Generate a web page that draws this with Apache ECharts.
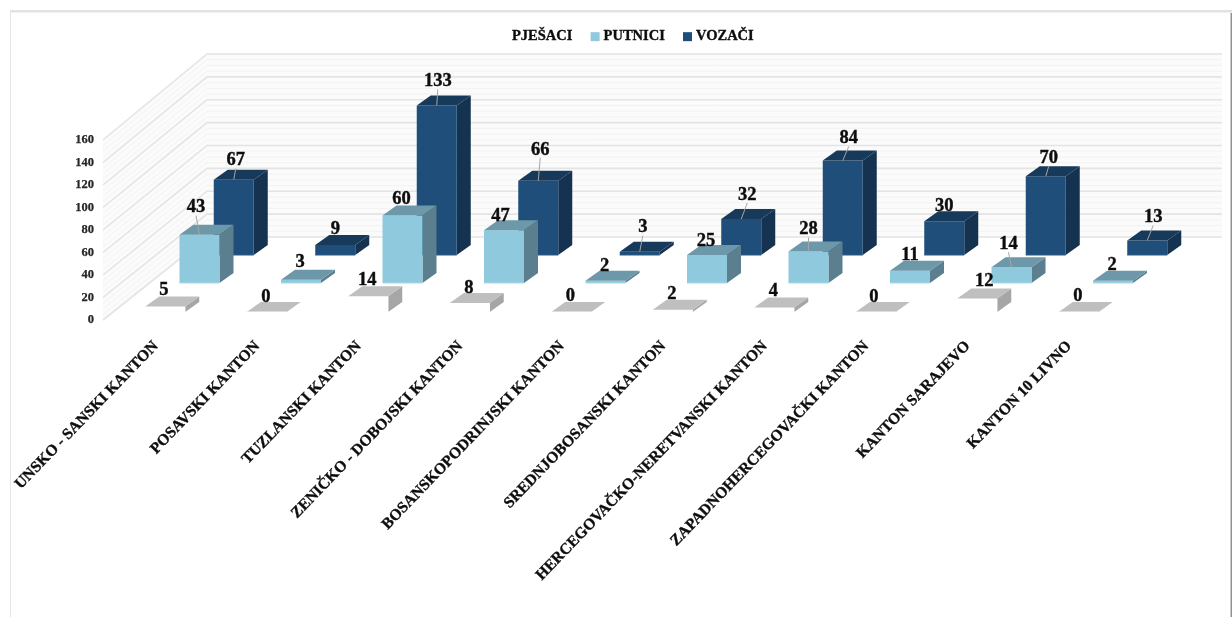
<!DOCTYPE html>
<html><head><meta charset="utf-8">
<script src="https://cdn.jsdelivr.net/npm/echarts@6/dist/echarts.min.js"></script>
<style>html,body{margin:0;padding:0;background:#fff}#c{width:1232px;height:617px}</style>
</head><body><div id="c"></div>
<script>
const categories = ['UNSKO - SANSKI KANTON','POSAVSKI KANTON','TUZLANSKI KANTON','ZENIČKO - DOBOJSKI KANTON','BOSANSKOPODRINJSKI KANTON','SREDNJOBOSANSKI KANTON','HERCEGOVAČKO-NERETVANSKI KANTON','ZAPADNOHERCEGOVAČKI KANTON','KANTON SARAJEVO','KANTON 10 LIVNO'];
const pjesaci = [5,0,14,8,0,2,4,0,12,0];
const putnici = [43,3,60,47,2,25,28,11,14,2];
const vozaci  = [67,9,133,66,3,32,84,30,70,13];

// hand-placed label nudges (Excel leader-line labels): [dx, dy] from bar front-top centre
const nudgeVozaci  = [[2,-20],[0,-17],[1,-25],[2,-32],[3,-25],[6,-25],[6,-23],[0,-16],[3,-19],[6,-24]];
const nudgePutnici = [[-3.5,-28],[-1,-18],[-1,-17],[-3.5,-15],[-1,-16],[-1,-15],[0,-23],[0,-16],[-3,-24],[-1,-17]];
const nudgePjesaci = [[-1.5,-17],[-1,-16],[-1,-17],[-1,-16],[-1,-17],[-1,-17],[-1,-17],[-2,-16],[7,-18],[-1,-17]];

const FONT = '"Liberation Serif", serif';
const INK = '#0d0d0d';
const BAR_W = 40, DEP_X = 14, DEP_Y = 10;
const BACK_X = 104, BACK_Y = -83, BACK_SCALE = 1.0167;

const rows = [
  {name:'PJEŠACI', vals:pjesaci, nudge:nudgePjesaci, ox:11.5, oy:-8, front:'#ffffff', top:'#bfbfbf', side:'#a6a6a6', edge:'#fbfbfb', legend:'#ffffff'},
  {name:'PUTNICI', vals:putnici, nudge:nudgePutnici, ox:45.75, oy:-37, front:'#8ec9dd', top:'#6c98a9', side:'#5b7f8e', edge:'#a6dcec', legend:'#8ec9dd'},
  {name:'VOZAČI', vals:vozaci, nudge:nudgeVozaci, ox:80, oy:-65, front:'#1e4e79', top:'#17395a', side:'#153250', edge:'#2a5c88', legend:'#1e4e79'}
];

function wallItem(params, api){
  const kids = [];
  const gridL = params.coordSys.x, gridW = params.coordSys.width;
  const y0 = api.coord([0,0])[1];
  const yOf = v => api.coord([0,v])[1];
  const backY = v => y0 + BACK_Y + (yOf(v)-y0)*BACK_SCALE;
  const xFront = gridL, xBack = gridL + BACK_X, xEnd = gridL + BACK_X + gridW;
  kids.push({type:'polygon', shape:{points:[[xFront,yOf(0)],[xBack,backY(0)],[xEnd,backY(0)],[xEnd,backY(160)],[xBack,backY(160)],[xFront,yOf(160)]]}, style:{fill:'#fbfbfb'}, silent:true});
  for(let v=0; v<=160; v+=5){
    const major = v%20===0;
    const col = major ? '#e4e4e4' : '#f3f3f3';
    const w = major ? 1.6 : 1;
    kids.push({type:'polyline', shape:{points:[[xFront,yOf(v)],[xBack,backY(v)],[xEnd,backY(v)]]}, style:{fill:null, stroke:col, lineWidth:w}, silent:true});
  }
  return {type:'group', children:kids};
}

function barItem(row){
  return function(params, api){
    const cat = api.value(0), val = api.value(1);
    const b = api.coord([cat,0]), t = api.coord([cat,val]);
    const cx = b[0]+row.ox, l = cx-BAR_W/2, r = cx+BAR_W/2;
    const yb = b[1]+row.oy, yt = t[1]+row.oy;
    const kids = [];
    if(val>0){
      kids.push({type:'polygon', shape:{points:[[r,yb],[r+DEP_X,yb-DEP_Y],[r+DEP_X,yt-DEP_Y],[r,yt]]}, style:{fill:row.side}});
      kids.push({type:'rect', shape:{x:l,y:yt,width:BAR_W,height:yb-yt}, style:{fill:row.front}});
    }
    kids.push({type:'polygon', shape:{points:[[l,yt],[l+DEP_X,yt-DEP_Y],[r+DEP_X,yt-DEP_Y],[r,yt]]}, style:{fill:row.top}});
    kids.push({type:'line', shape:{x1:l,y1:yb,x2:r,y2:yb}, style:{stroke:row.edge,lineWidth:1.2}});
    return {type:'group', children:kids};
  };
}

function labelItem(row){
  return function(params, api){
    const cat = api.value(0), val = api.value(1);
    const b = api.coord([cat,0]), t = api.coord([cat,val]);
    const cx = b[0]+row.ox, yt = t[1]+row.oy;
    const n = row.nudge[cat];
    const lx = cx+n[0], ly = yt+n[1];
    const kids = [];
    if(n[1] < -18.5){
      kids.push({type:'line', shape:{x1:lx,y1:ly+9,x2:cx,y2:yt}, style:{stroke:'#a6a6a6',lineWidth:1}});
    }
    kids.push({type:'text', x:lx, y:ly+1, style:{text:String(val), fill:INK, stroke:INK, lineWidth:0.4, font:'bold 18.5px '+FONT, align:'center', verticalAlign:'middle'}});
    return {type:'group', children:kids};
  };
}

const series = [{
  type:'custom', name:'wall', silent:true, z:1, data:[[0,0]], renderItem:wallItem, clip:false,
  encode:{x:0,y:1}
}];
[rows[2],rows[1],rows[0]].forEach((row,i)=>{
  series.push({type:'custom', name:row.name, z:2+i, clip:false, silent:true,
    itemStyle:{color:row.legend},
    data:row.vals.map((v,c)=>[c,v]), renderItem:barItem(row), encode:{x:0,y:1}});
});
rows.forEach((row,i)=>{
  series.push({type:'custom', name:row.name+' labels', z:10+i, clip:false, silent:true,
    data:row.vals.map((v,c)=>[c,v]), renderItem:labelItem(row), encode:{x:0,y:1}});
});

const chart = echarts.init(document.getElementById('c'), null, {renderer:'canvas'});
chart.setOption({
  animation:false,
  backgroundColor:'#ffffff',
  graphic:[
    {type:'rect', shape:{x:10,y:10,width:1222,height:2.5}, style:{fill:'#e2e2e2'}, z:0},
    {type:'rect', shape:{x:10,y:10,width:1,height:607}, style:{fill:'#e4e4e4'}, z:0},
    {type:'rect', shape:{x:1230.5,y:13,width:1.5,height:604}, style:{fill:'#919191'}, z:0}
  ],
  legend:{
    left:494, top:24, icon:'rect', itemWidth:9, itemHeight:9, itemGap:18, selectedMode:false,
    data:rows.map(r=>r.name),
    textStyle:{fontFamily:FONT, fontWeight:'bold', fontSize:14.5, color:INK, textBorderColor:INK, textBorderWidth:0.35, padding:[0,0,0,-1]}
  },
  grid:{left:103, top:140, width:1015, height:180, containLabel:false},
  xAxis:{type:'category', data:categories, boundaryGap:true,
    axisLine:{show:false}, axisTick:{show:false}, splitLine:{show:false},
    axisLabel:{interval:0, rotate:46, margin:26, padding:[0,-3,0,0], fontFamily:FONT, fontWeight:'bold', fontSize:15.6, color:INK, textBorderColor:INK, textBorderWidth:0.35, hideOverlap:false}
  },
  yAxis:{type:'value', min:0, max:160, interval:20,
    axisLine:{show:false}, axisTick:{show:false}, splitLine:{show:false},
    axisLabel:{margin:9, padding:[5,0,0,0], fontFamily:FONT, fontWeight:'bold', fontSize:12.5, color:'#262626', textBorderColor:'#262626', textBorderWidth:0.25}
  },
  series
});
</script></body></html>
